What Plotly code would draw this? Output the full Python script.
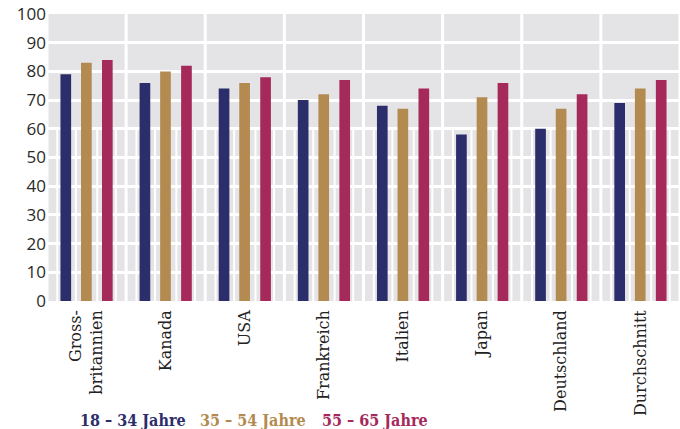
import plotly.graph_objects as go

categories = ["Gross-<br>britannien", "Kanada", "USA", "Frankreich", "Italien", "Japan", "Deutschland", "Durchschnitt"]
series_names = ["18 – 34 Jahre", "35 – 54 Jahre", "55 – 65 Jahre"]
v_18_34 = [79, 76, 74, 70, 68, 58, 60, 69]
v_35_54 = [83, 80, 76, 72, 67, 71, 67, 74]
v_55_65 = [84, 82, 78, 77, 74, 76, 72, 77]
y_ticks = [0, 10, 20, 30, 40, 50, 60, 70, 80, 90, 100]

colors = ["#2c2e6b", "#b38a50", "#a5295b"]
offsets = [-0.33, -0.07, 0.195]
bar_w = 0.135

fig = go.Figure()
for name, vals, col, off in zip(series_names, [v_18_34, v_35_54, v_55_65], colors, offsets):
    fig.add_trace(go.Bar(x=list(range(len(categories))), y=vals, name=name,
                         marker=dict(color=col, line=dict(width=0)),
                         width=bar_w, offset=off, showlegend=False, hoverinfo="y"))

# fine decorative vertical grid lines in lower region
shapes = []
for i in range(len(categories)):
    for d in (-0.37, -0.135, 0.135, 0.37):
        shapes.append(dict(type="line", xref="x", yref="y", x0=i + d, x1=i + d, y0=0, y1=60,
                           line=dict(color="white", width=2), layer="below"))
# category divider lines
for i in range(len(categories) + 1):
    shapes.append(dict(type="line", xref="x", yref="y", x0=i - 0.5, x1=i - 0.5, y0=0, y1=100,
                       line=dict(color="white", width=3), layer="below"))

annotations = []
leg_x = [0.049, 0.238, 0.431]
for name, col, lx in zip(series_names, colors, leg_x):
    annotations.append(dict(text=name, xref="paper", yref="paper", x=lx, y=-0.415,
                            xanchor="left", yanchor="middle", showarrow=False,
                            font=dict(family="DejaVu Serif Condensed, DejaVu Serif", size=16,
                                      color=col, weight="bold")))

fig.update_layout(
    width=680, height=429,
    margin=dict(l=47, r=0, t=14, b=128, autoexpand=False),
    paper_bgcolor="white",
    plot_bgcolor="#e4e4e6",
    barmode="overlay",
    shapes=shapes,
    annotations=annotations,
    xaxis=dict(
        tickmode="array", tickvals=list(range(len(categories))), ticktext=categories,
        range=[-0.5, len(categories) - 0.5],
        tickangle=-90, automargin=False, ticklabelstandoff=5,
        tickfont=dict(family="DejaVu Serif", size=16, color="#222222"),
        showgrid=False, zeroline=False, showline=False, ticks="",
    ),
    yaxis=dict(
        range=[0, 100], tickvals=y_ticks, automargin=False,
        tickfont=dict(family="Open Sans", size=17, color="#2a2a2a"),
        showgrid=True, gridcolor="white", gridwidth=3,
        zeroline=False, showline=False, ticks="",
    ),
)

fig.write_html("out.html", config={"displayModeBar": False},
               post_script="document.body.style.margin='0';document.body.style.overflow='hidden';")
